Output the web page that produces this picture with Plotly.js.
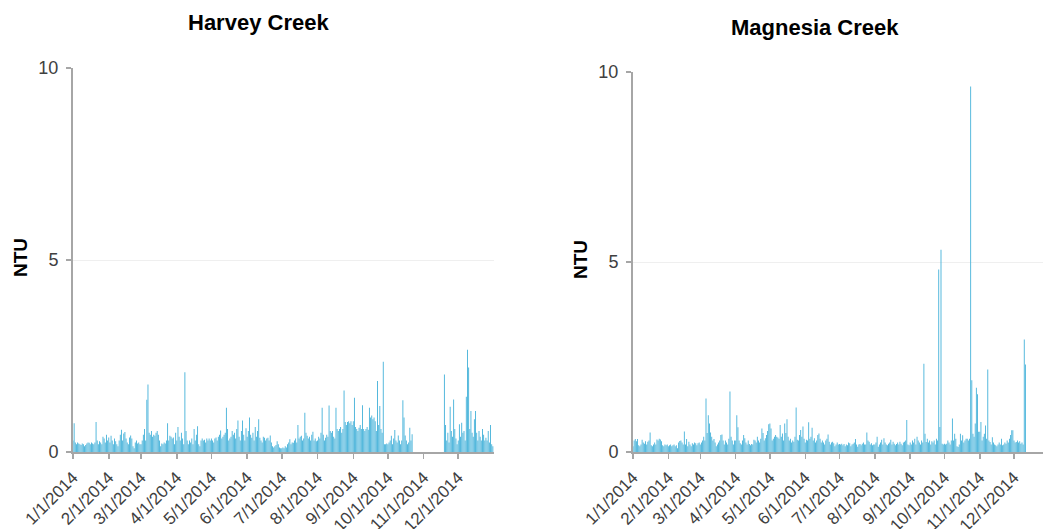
<!DOCTYPE html>
<html>
<head>
<meta charset="utf-8">
<script src="https://cdn.plot.ly/plotly-3.0.1.min.js"></script>
<style>html,body{margin:0;padding:0;background:#fff;overflow:hidden}#chart{width:1043px;height:529px}</style>
</head>
<body>
<div id="chart"></div>
<script>
// Daily turbidity (NTU), 2014 — Harvey Creek
const harveyJan = [0.3,0.75,0.25,0.2,0.25,0.22,0.2,0.18,0.22,0.2,0.15,0.18,0.22,0.25,0.24,0.2,0.25,0.22,0.2,0.25,0.78,0.3,0.2,0.28,0.25,0.2,0.4,0.35,0.25,0.45,0.3];
const harveyFeb = [0.38,0.25,0.42,0.3,0.2,0.35,0.28,0.2,0.15,0.3,0.45,0.58,0.3,0.48,0.52,0.35,0.25,0.2,0.38,0.43,0.35,0.15,0.1,0.25,0.3,0.22,0.25,0.2];
const harveyMar = [0.2,0.3,0.45,0.6,0.3,1.36,1.76,0.5,0.45,0.55,0.4,0.45,0.42,0.5,0.55,0.45,0.3,0.15,0.22,0.2,0.25,0.22,0.3,0.75,0.3,0.42,0.4,0.35,0.38,0.2,0.5];
const harveyApr = [0.3,0.65,0.4,0.3,0.5,0.35,0.2,2.08,0.55,0.3,0.2,0.3,0.25,0.35,0.2,0.6,0.3,0.45,0.67,0.2,0.15,0.3,0.35,0.3,0.32,0.25,0.35,0.3,0.35,0.3];
const harveyMay = [0.35,0.3,0.25,0.35,0.38,0.3,0.4,0.45,0.56,0.35,0.4,0.45,0.5,1.15,0.6,0.3,0.35,0.4,0.55,0.45,0.5,0.35,0.6,0.82,0.4,0.3,0.55,0.82,0.45,0.3,0.62];
const harveyJun = [0.4,0.55,0.9,0.45,0.37,0.5,0.3,0.65,0.4,0.55,0.85,0.37,0.3,0.25,0.4,0.37,0.3,0.35,0.37,0.3,0.43,0.25,0.15,0.12,0.15,0.18,0.28,0.2,0.12,0.1];
const harveyJul = [0.1,0.12,0.1,0.15,0.12,0.2,0.25,0.33,0.2,0.25,0.24,0.3,0.35,0.25,0.7,0.35,0.4,0.42,0.3,0.35,1.02,0.5,0.42,0.35,0.4,0.3,0.45,0.53,0.3,0.35,0.28];
const harveyAug = [0.3,0.4,0.35,0.5,1.15,0.45,0.3,0.37,0.45,0.4,1.21,0.55,0.5,0.55,0.4,0.35,1.15,0.6,0.55,0.6,0.65,0.5,0.6,1.6,0.78,0.7,0.78,0.8,0.75,0.8,0.7];
const harveySep = [0.8,1.41,0.65,0.6,0.55,0.63,0.7,0.6,1.22,0.6,0.55,0.6,0.65,0.58,1.15,0.9,0.95,0.85,0.9,0.8,0.55,1.85,0.7,1.2,0.6,0.5,2.35,0.2,0.2,0.22];
const harveyOct = [0.2,0.25,0.3,0.42,0.2,0.35,0.57,0.3,0.25,0.43,0.3,0.2,0.3,1.35,0.9,0.43,0.3,0.2,0.25,0.63,0.3,0.46,null,null,null,null,null,null,null,null,null];
const harveyNov = [null,null,null,null,null,null,null,null,null,null,null,null,null,null,null,null,null,null,2.02,0.7,0.3,0.5,0.25,1.18,0.55,0.4,1.37,0.6,0.35,0.2];
const harveyDec = [0.3,0.72,0.4,0.76,0.5,0.55,0.3,1.44,2.66,2.2,0.6,1.07,0.5,0.4,0.85,1.07,0.5,0.3,0.55,0.4,0.3,0.6,0.45,0.3,0.37,0.3,0.55,0.25,0.7,0.2,0.15];

// Daily turbidity (NTU), 2014 — Magnesia Creek
const magJan = [0.15,0.3,0.34,0.28,0.34,0.18,0.15,0.2,0.32,0.25,0.22,0.28,0.2,0.27,0.3,0.51,0.18,0.15,0.2,0.25,0.2,0.33,0.3,0.35,0.33,0.28,0.18,0.15,0.2,0.18,0.2];
const magFeb = [0.15,0.18,0.2,0.15,0.18,0.2,0.15,0.18,0.1,0.25,0.29,0.3,0.25,0.2,0.54,0.2,0.34,0.15,0.27,0.2,0.15,0.23,0.2,0.25,0.23,0.18,0.23,0.25];
const magMar = [0.2,0.25,0.3,0.4,0.3,1.41,0.5,0.97,0.75,0.51,0.4,0.3,0.34,0.25,0.15,0.2,0.25,0.3,0.45,0.46,0.3,0.2,0.3,0.25,0.2,0.35,1.59,0.4,0.3,0.2,0.3];
const magApr = [0.3,0.97,0.65,0.3,0.23,0.2,0.3,0.45,0.36,0.25,0.2,0.3,0.21,0.18,0.21,0.2,0.32,0.3,0.25,0.4,0.3,0.25,0.35,0.62,0.5,0.3,0.36,0.45,0.55,0.73];
const magMay = [0.75,0.62,0.3,0.35,0.4,0.45,0.4,0.38,0.35,0.71,0.4,0.49,0.3,0.75,0.5,0.86,0.4,0.3,0.35,0.25,0.3,0.27,0.4,1.17,0.32,0.3,0.45,0.58,0.4,0.67,0.35];
const magJun = [0.25,0.32,0.3,0.78,0.35,0.4,0.64,0.3,0.36,0.25,0.3,0.45,0.49,0.35,0.25,0.3,0.25,0.2,0.3,0.35,0.46,0.27,0.2,0.25,0.27,0.23,0.15,0.2,0.25,0.2];
const magJul = [0.21,0.2,0.22,0.18,0.21,0.15,0.2,0.18,0.25,0.23,0.15,0.2,0.22,0.25,0.34,0.2,0.14,0.2,0.21,0.18,0.22,0.25,0.2,0.2,0.51,0.3,0.27,0.2,0.23,0.18,0.2];
const magAug = [0.2,0.25,0.4,0.14,0.2,0.25,0.32,0.2,0.36,0.25,0.2,0.18,0.22,0.25,0.32,0.2,0.27,0.22,0.18,0.21,0.25,0.2,0.27,0.22,0.18,0.25,0.27,0.3,0.84,0.2,0.18];
const magSep = [0.25,0.2,0.3,0.25,0.35,0.2,0.4,0.3,0.25,0.2,0.3,0.25,2.32,0.48,0.26,0.35,0.25,0.3,0.2,0.28,0.25,0.3,0.2,0.35,0.3,4.8,0.66,5.32,0.22,0.2];
const magOct = [0.22,0.2,0.22,0.3,0.25,0.2,0.3,0.88,0.3,0.48,0.35,0.15,0.13,0.2,0.48,0.3,0.44,0.25,0.3,0.35,0.35,0.3,0.35,9.62,1.89,0.48,0.4,0.75,1.69,1.52,0.53];
const magNov = [0.53,0.79,0.3,0.4,0.48,0.7,0.35,2.17,0.3,0.26,0.2,0.39,0.25,0.2,0.18,0.15,0.2,0.25,0.2,0.35,0.18,0.2,0.25,0.22,0.3,0.25,0.35,0.45,0.57,0.57];
const magDec = [0.3,0.25,0.26,0.3,0.25,0.28,0.22,0.25,0.2,2.96,2.3,null,null,null,null,null,null,null,null,null,null,null,null,null,null,null,null,null,null,null,null];

const tickDates = ['2014-01-01','2014-02-01','2014-03-01','2014-04-01','2014-05-01','2014-06-01','2014-07-01','2014-08-01','2014-09-01','2014-10-01','2014-11-01','2014-12-01'];
const tickLabels = ['1/1/2014','2/1/2014','3/1/2014','4/1/2014','5/1/2014','6/1/2014','7/1/2014','8/1/2014','9/1/2014','10/1/2014','11/1/2014','12/1/2014'];
const titles = ['Harvey Creek', 'Magnesia Creek'];
const yLabel = 'NTU';

const harvey = [].concat(harveyJan,harveyFeb,harveyMar,harveyApr,harveyMay,harveyJun,harveyJul,harveyAug,harveySep,harveyOct,harveyNov,harveyDec);
const magnesia = [].concat(magJan,magFeb,magMar,magApr,magMay,magJun,magJul,magAug,magSep,magOct,magNov,magDec);

function dayDates(n) {
  const out = [];
  for (let i = 0; i < n; i++) {
    const d = new Date(Date.UTC(2014, 0, 1 + i));
    out.push(d.toISOString().slice(0, 10));
  }
  return out;
}
const days = dayDates(365);

const barColor = '#48b3da';
const font = 'Liberation Sans, Arial, sans-serif';
const W = 1043, H = 529;

const traces = [
  {type:'bar', x: days, y: harvey, xaxis:'x', yaxis:'y', marker:{color: barColor, line:{width:0}}, hoverinfo:'x+y'},
  {type:'bar', x: days, y: magnesia, xaxis:'x2', yaxis:'y2', marker:{color: barColor, line:{width:0}}, hoverinfo:'x+y'}
];

const xCommon = {
  type:'date', tickvals: tickDates, ticktext: tickLabels, tickangle:-45,
  ticks:'outside', ticklen:5, tickwidth:1.5, tickcolor:'#a6a6a6',
  showline:true, linecolor:'#a6a6a6', linewidth:2, showgrid:false, zeroline:false,
  tickfont:{family:font, size:17, color:'#404040'}, ticklabelstandoff:2, fixedrange:true
};
const yCommon = {
  range:[0,10], tickvals:[0,5,10], ticks:'outside', ticklen:5, tickwidth:1.5, tickcolor:'#a6a6a6',
  showline:true, linecolor:'#a6a6a6', linewidth:2, showgrid:true, gridcolor:'#efefef', gridwidth:1,
  zeroline:false, tickfont:{family:font, size:18, color:'#404040'}, ticklabelstandoff:4, fixedrange:true
};

const layout = {
  width: W, height: H, margin:{l:0, r:0, t:0, b:0},
  paper_bgcolor:'#ffffff', plot_bgcolor:'#ffffff',
  showlegend:false, bargap:0.2,
  font:{family:font, color:'#404040'},
  xaxis: Object.assign({}, xCommon, {domain:[73/W, 494/W], range:['2014-01-01','2015-01-01'], anchor:'y'}),
  yaxis: Object.assign({}, yCommon, {domain:[(H-452)/H, (H-68)/H], anchor:'x'}),
  xaxis2: Object.assign({}, xCommon, {domain:[633/W, 1], range:['2014-01-01','2014-12-26 10:00'], anchor:'y2'}),
  yaxis2: Object.assign({}, yCommon, {domain:[(H-452)/H, (H-72)/H], anchor:'x2'}),
  annotations: [
    {text:'<b>'+titles[0]+'</b>', xref:'paper', yref:'paper', x:258/W, y:1-23/H, xanchor:'center', yanchor:'middle', showarrow:false, font:{family:font, size:22, color:'#000'}},
    {text:'<b>'+titles[1]+'</b>', xref:'paper', yref:'paper', x:815/W, y:1-27/H, xanchor:'center', yanchor:'middle', showarrow:false, font:{family:font, size:22, color:'#000'}},
    {text:'<b>'+yLabel+'</b>', xref:'paper', yref:'paper', x:20/W, y:1-258/H, xanchor:'center', yanchor:'middle', textangle:-90, showarrow:false, font:{family:font, size:19, color:'#000'}},
    {text:'<b>'+yLabel+'</b>', xref:'paper', yref:'paper', x:580/W, y:1-260/H, xanchor:'center', yanchor:'middle', textangle:-90, showarrow:false, font:{family:font, size:19, color:'#000'}}
  ]
};

Plotly.newPlot('chart', traces, layout, {displayModeBar:false, staticPlot:true});
</script>
</body>
</html>
